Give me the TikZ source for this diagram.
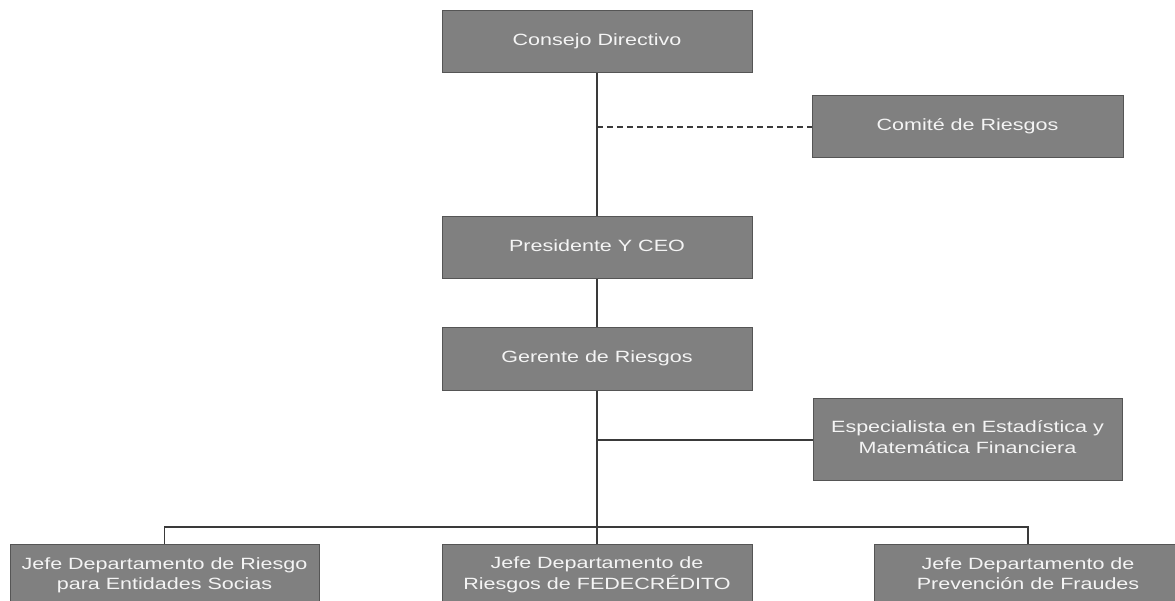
\documentclass[tikz,border=0pt]{standalone}
\usepackage{graphicx}
\usepackage{fontspec}
\setmainfont{Liberation Sans}
\definecolor{boxfill}{HTML}{808080}
\definecolor{boxline}{HTML}{555555}
\definecolor{connline}{HTML}{3A3A3A}
\definecolor{boxtext}{HTML}{F4F4F4}
\newcommand{\bxt}[1]{\scalebox{1.32}[1]{\begin{tabular}{@{}c@{}}#1\end{tabular}}}
\tikzset{
  orgbox/.style={draw=boxline, line width=1pt, fill=boxfill, text=boxtext,
    inner sep=0pt, minimum height=62pt, minimum width=310pt,
    font=\fontsize{16.3}{20}\selectfont},
  conn/.style={draw=connline, line width=1.6pt},
  dconn/.style={draw=connline, line width=1.3pt, dash pattern=on 6pt off 4pt}
}
\begin{document}
\begin{tikzpicture}[x=1pt, y=-1pt]
\useasboundingbox (0,0) rectangle (1175,601);
\clip (0,0) rectangle (1175,601);
\fill[white] (0,0) rectangle (1175,601);

\node[orgbox] (cd) at (597,42) {\bxt{Consejo Directivo}};
\node[orgbox, minimum width=311pt] (cr) at (967.5,127) {\bxt{Comité de Riesgos}};
\node[orgbox] (pc) at (597,248) {\bxt{Presidente Y CEO}};
\node[orgbox] (gr) at (597,359) {\bxt{Gerente de Riesgos}};
\node[orgbox, minimum width=309pt, minimum height=82pt] (es) at (967.5,439) {\bxt{Especialista en Estadística y\\Matemática Financiera}};
\node[orgbox, minimum width=309pt] (jl) at (164.5,575) {\bxt{Jefe Departamento de Riesgo\\para Entidades Socias}};
\node[orgbox] (jm) at (597,575) {\bxt{Jefe Departamento de\\Riesgos de FEDECRÉDITO}};
\node[orgbox, minimum width=308pt] (jr) at (1028,575) {\bxt{Jefe Departamento de\\Prevención de Fraudes}};

\coordinate (dj) at (597,127);
\coordinate (ej) at (597,440);
\coordinate (bus) at (597,527);

\draw[conn] (cd.south) -- (pc.north);
\draw[dconn] (dj) -- (cr.west);
\draw[conn] (pc.south) -- (gr.north);
\draw[conn] (gr.south) -- (jm.north);
\draw[conn, line width=1.3pt] (ej) -- (es.west |- ej);
\draw[conn, line width=1.3pt] (jl.north) |- (bus) -| (jr.north);
\end{tikzpicture}
\end{document}
